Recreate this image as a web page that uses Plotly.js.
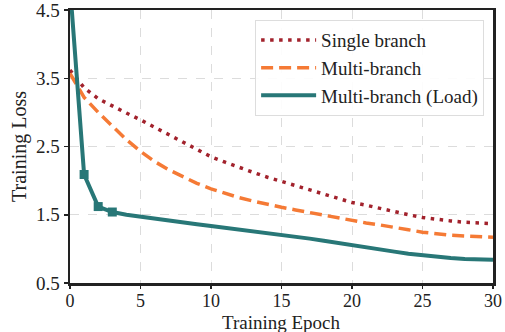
<!DOCTYPE html>
<html>
<head>
<meta charset="utf-8">
<script src="https://cdn.plot.ly/plotly-3.0.1.min.js"></script>
<style>html,body{margin:0;padding:0;background:#fff;}#chart{width:505px;height:332px;}</style>
</head>
<body>
<div id="chart"></div>
<script>
const epochs = [0,1,2,3,4,5,6,7,8,9,10,11,12,13,14,15,16,17,18,19,20,21,22,23,24,25,26,27,28,29,30];
const singleBranch = [3.62,3.36,3.2,3.09,2.99,2.89,2.78,2.67,2.56,2.45,2.35,2.27,2.19,2.12,2.05,1.99,1.93,1.87,1.81,1.74,1.68,1.64,1.59,1.54,1.5,1.46,1.43,1.41,1.39,1.38,1.37];
const multiBranch = [3.57,3.22,3.0,2.8,2.6,2.43,2.28,2.16,2.06,1.96,1.88,1.81,1.75,1.7,1.65,1.61,1.57,1.53,1.49,1.45,1.42,1.38,1.35,1.31,1.28,1.245,1.22,1.2,1.19,1.18,1.17];
const multiBranchLoad = [4.85,2.09,1.62,1.54,1.5,1.47,1.44,1.415,1.39,1.36,1.335,1.31,1.285,1.26,1.235,1.21,1.18,1.15,1.12,1.085,1.05,1.02,0.99,0.96,0.93,0.905,0.88,0.865,0.85,0.845,0.84];
const markerEpochs = [0,1,2,3];
const seriesNames = ["Single branch","Multi-branch","Multi-branch (Load)"];
const xTicks = [0,5,10,15,20,25,30];
const yTicks = [0.5,1.5,2.5,3.5,4.5];

const red = "#a2222c", orange = "#f57a35", teal = "#287777";
const traces = [
  {x: epochs, y: singleBranch, name: seriesNames[0], mode: "lines", line: {color: red, width: 3.5, dash: "3.5px,5.5px"}},
  {x: epochs, y: multiBranch, name: seriesNames[1], mode: "lines", line: {color: orange, width: 3.5, dash: "12px,6px"}},
  {x: epochs, y: multiBranchLoad, name: seriesNames[2], mode: "lines", line: {color: teal, width: 4}},
  {x: markerEpochs, y: markerEpochs.map(e => multiBranchLoad[epochs.indexOf(e)]), mode: "markers", showlegend: false,
   marker: {symbol: "square", size: 9, color: teal}, cliponaxis: true}
];
const font = {family: "Liberation Serif, Times New Roman, serif", color: "#222", size: 19};
const layout = {
  width: 505, height: 332,
  margin: {l: 70, r: 12, t: 10, b: 49},
  paper_bgcolor: "#fff", plot_bgcolor: "#fff",
  font: font,
  showlegend: true,
  legend: {x: 0.979, y: 0.963, xanchor: "right", yanchor: "top", bgcolor: "rgba(255,255,255,0.9)",
           bordercolor: "#ddd", borderwidth: 1, font: {family: font.family, size: 19, color: "#222"},
           tracegroupgap: 0, itemwidth: 55},
  xaxis: {range: [0, 30], tickvals: xTicks, ticktext: xTicks.map(String), showgrid: true, gridcolor: "#dcdcdc", griddash: "dash", gridwidth: 1,
          zeroline: false, showline: true, linecolor: "#222", linewidth: 2.5, mirror: true, ticklabeloverflow: "allow",
          ticks: "outside", ticklen: 3, tickwidth: 1.5, tickcolor: "#222", tickfont: {size: 18}, ticklabelstandoff: -3},
  yaxis: {range: [0.5, 4.5], tickvals: yTicks, ticktext: yTicks.map(v => v.toFixed(1)), showgrid: true, gridcolor: "#dcdcdc", griddash: "dash", gridwidth: 1,
          zeroline: false, showline: true, linecolor: "#222", linewidth: 2.5, mirror: true, ticklabeloverflow: "allow",
          ticks: "outside", ticklen: 4, tickwidth: 1.5, tickcolor: "#222", tickfont: {size: 19},
          title: {text: "Training Loss", font: {size: 20}, standoff: 4}},
  annotations: [{text: "Training Epoch", xref: "paper", yref: "paper", x: 0.5, y: -0.145, xanchor: "center", yanchor: "middle",
                 showarrow: false, font: {size: 19, color: "#222", family: font.family}}]
};
Plotly.newPlot("chart", traces, layout, {displayModeBar: false, staticPlot: true});
</script>
</body>
</html>
